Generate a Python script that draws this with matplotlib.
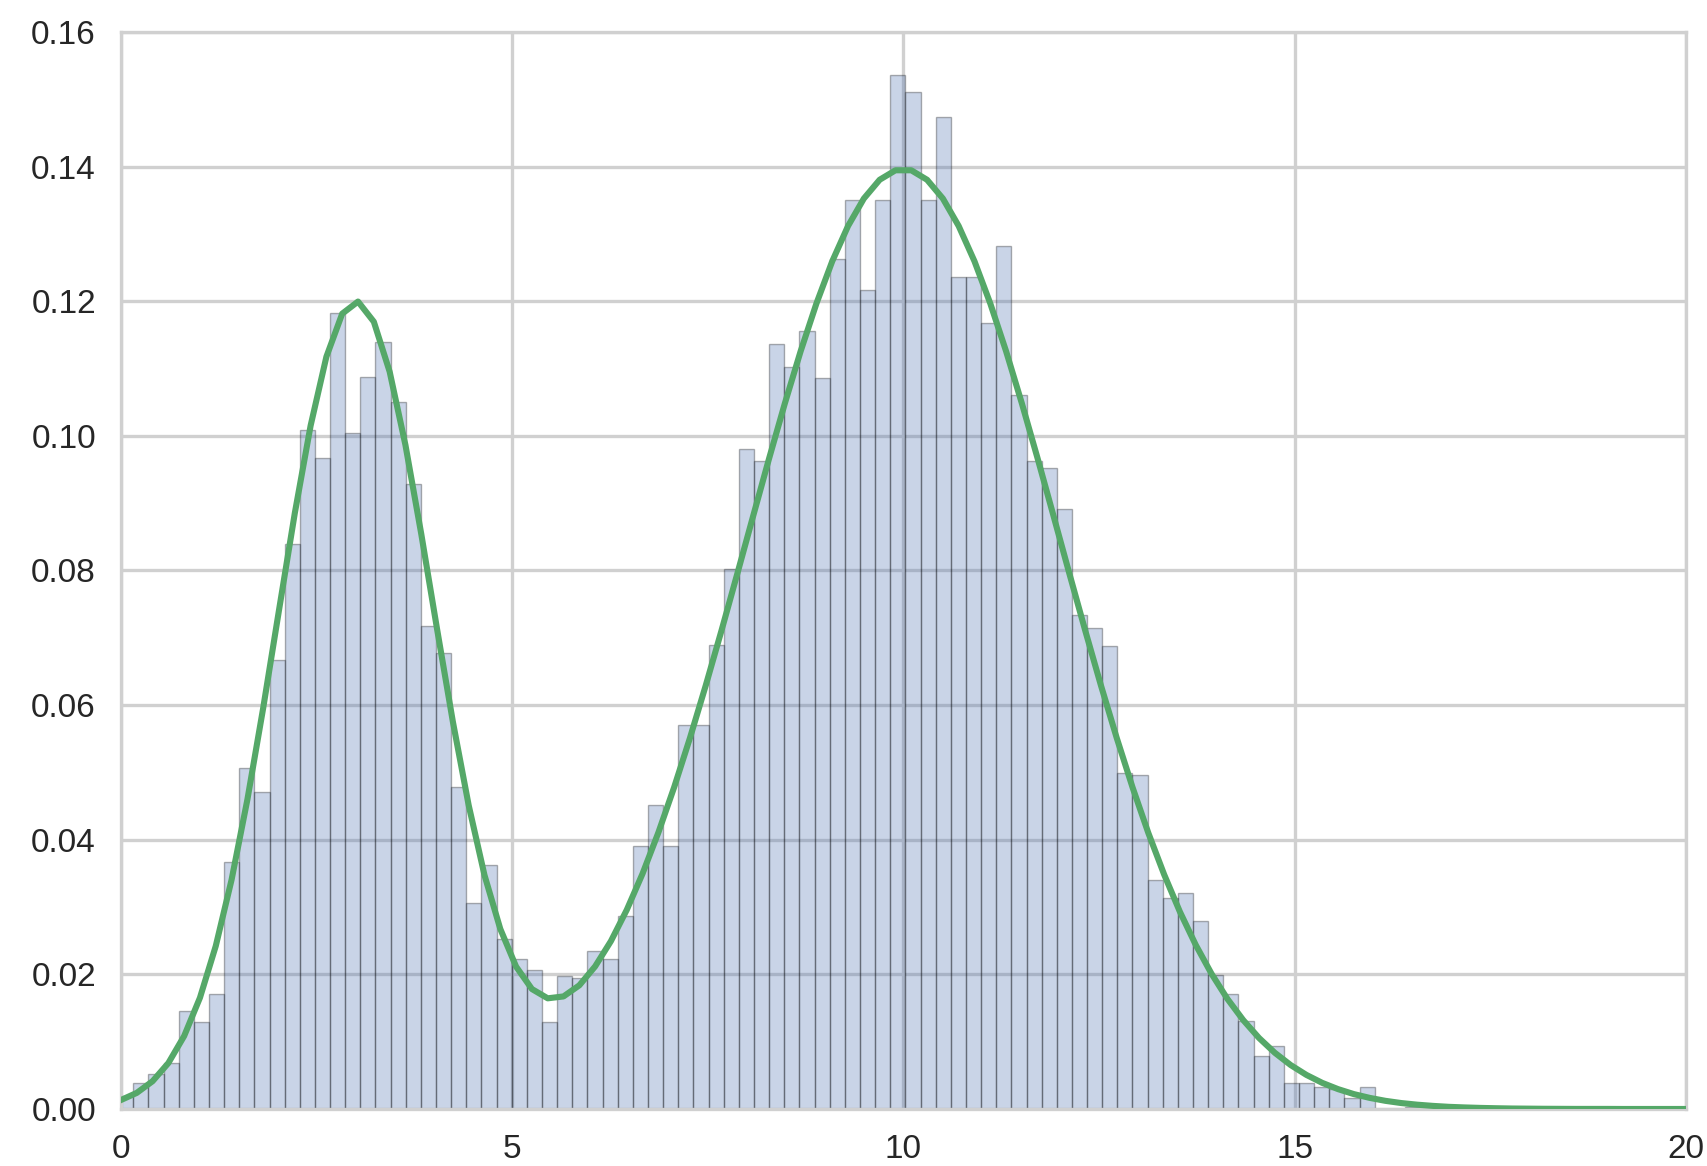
import numpy as np
import matplotlib
matplotlib.use("Agg")
import matplotlib.pyplot as plt

# histogram heights (density), 100 bins
hist_start = -0.036
bin_width = 0.1935
hist_heights = [
    0.0020, 0.0038, 0.0052, 0.0068, 0.0145, 0.0129, 0.0171, 0.0367, 0.0506, 0.0471,
    0.0667, 0.0840, 0.1008, 0.0967, 0.1183, 0.1004, 0.1087, 0.1139, 0.1050, 0.0929,
    0.0718, 0.0677, 0.0479, 0.0306, 0.0363, 0.0252, 0.0223, 0.0207, 0.0129, 0.0198,
    0.0195, 0.0234, 0.0223, 0.0286, 0.0390, 0.0452, 0.0391, 0.0570, 0.0570, 0.0689,
    0.0802, 0.0981, 0.0963, 0.1137, 0.1103, 0.1155, 0.1086, 0.1262, 0.1350, 0.1217,
    0.1350, 0.1536, 0.1511, 0.1350, 0.1474, 0.1236, 0.1236, 0.1168, 0.1282, 0.1060,
    0.0963, 0.0952, 0.0891, 0.0734, 0.0715, 0.0688, 0.0499, 0.0496, 0.0340, 0.0314,
    0.0321, 0.0279, 0.0199, 0.0171, 0.0130, 0.0078, 0.0094, 0.0038, 0.0038, 0.0032,
    0.0029, 0.0016, 0.0032, 0.0, 0.0, 0.0003, 0.0, 0.0, 0.0, 0.0,
    0.0, 0.0, 0.0, 0.0, 0.0, 0.0003, 0.0, 0.0, 0.0, 0.0,
]

# density curve, sampled on 100 points from 0 to 20
curve_x = np.linspace(0, 20, 100)
curve_y = [
    0.00133, 0.00239, 0.00412, 0.00682, 0.01084, 0.01653, 0.02421, 0.03405, 0.04596, 0.05956,
    0.07410, 0.08851, 0.10151, 0.11176, 0.11815, 0.11995, 0.11695, 0.10954, 0.09863, 0.08543,
    0.07130, 0.05753, 0.04512, 0.03474, 0.02675, 0.02115, 0.01782, 0.01644, 0.01672, 0.01837,
    0.02118, 0.02494, 0.02957, 0.03496, 0.04106, 0.04780, 0.05512, 0.06293, 0.07112, 0.07956,
    0.08811, 0.09659, 0.10480, 0.11256, 0.11966, 0.12593, 0.13117, 0.13525, 0.13804, 0.13945,
    0.13945, 0.13804, 0.13525, 0.13117, 0.12593, 0.11966, 0.11256, 0.10480, 0.09659, 0.08811,
    0.07956, 0.07112, 0.06292, 0.05511, 0.04777, 0.04099, 0.03482, 0.02927, 0.02436, 0.02007,
    0.01636, 0.01321, 0.01055, 0.00835, 0.00653, 0.00506, 0.00388, 0.00295, 0.00221, 0.00165,
    0.00121, 0.00088, 0.00064, 0.00046, 0.00032, 0.00023, 0.00016, 0.00011, 0.00007, 0.00005,
    0.00003, 0.00002, 0.00001, 0.00001, 0.00001, 0.0, 0.0, 0.0, 0.0, 0.0,
]

x_ticks = [0, 5, 10, 15, 20]
y_ticks = [0.00, 0.02, 0.04, 0.06, 0.08, 0.10, 0.12, 0.14, 0.16]

plt.rcParams['font.family'] = ['Liberation Sans', 'DejaVu Sans']

fig = plt.figure(figsize=(8.54, 5.83), dpi=200)
ax = fig.add_axes([0.0708, 0.0489, 0.9162, 0.9237])

lefts = hist_start + bin_width * np.arange(len(hist_heights))
ax.bar(lefts, hist_heights, width=bin_width, align="edge",
       color="#4C72B0", alpha=0.3, edgecolor="black", linewidth=0.5, zorder=2)
ax.plot(curve_x, curve_y, color="#55A868", linewidth=2.2, zorder=3)

ax.set_xlim(0, 20)
ax.set_ylim(0, 0.16)
ax.set_xticks(x_ticks)
ax.set_yticks(y_ticks)
ax.set_yticklabels(["%.2f" % v for v in y_ticks])

ax.set_axisbelow(True)
ax.grid(True, color="#D0D0D0", linewidth=1.2, zorder=0)
for sp in ax.spines.values():
    sp.set_color("#D0D0D0")
    sp.set_linewidth(1.2)
ax.tick_params(length=0, pad=9, labelsize=12, labelcolor="#262626")

fig.savefig("out.png", dpi=200, facecolor="white")
